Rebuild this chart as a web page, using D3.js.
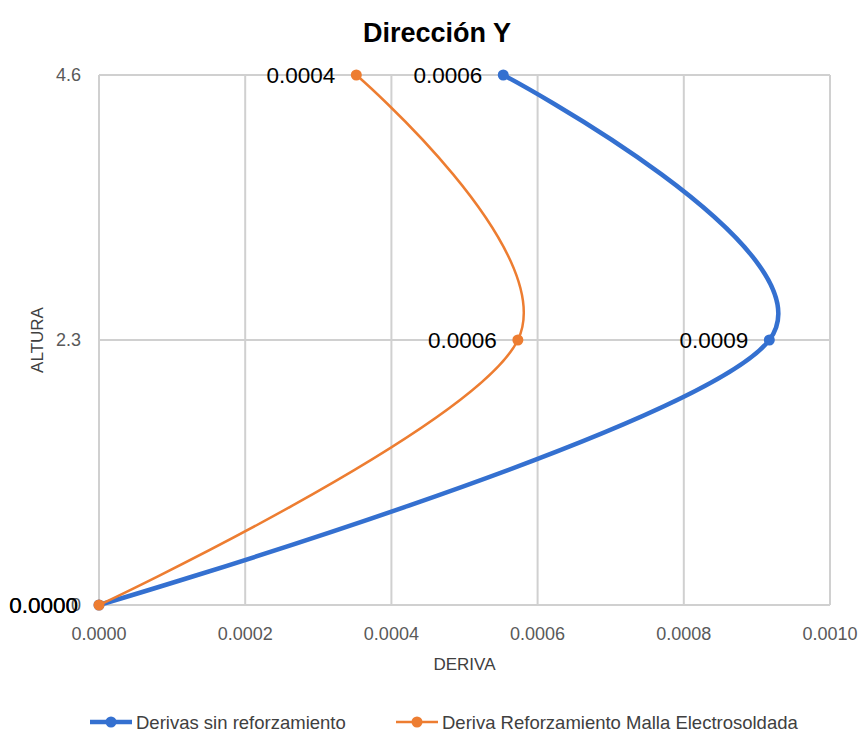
<!DOCTYPE html>
<html><head><meta charset="utf-8">
<script src="https://cdn.jsdelivr.net/npm/d3@7"></script>
<style>body{margin:0;background:#fff}svg{display:block}text{font-family:"Liberation Sans",Arial,sans-serif}</style>
</head><body>
<script>
const alturas = [0, 2.3, 4.6];
const derivasSinRef = [0, 0.000917, 0.000553];
const derivasMalla = [0, 0.000573, 0.000352];
const seriesNames = ["Derivas sin reforzamiento", "Deriva Reforzamiento Malla Electrosoldada"];
const xTicks = [0, 0.0002, 0.0004, 0.0006, 0.0008, 0.0010];
const yTicks = [0, 2.3, 4.6];
const yTickLabels = ["0", "2.3", "4.6"];

const W = 860, H = 733;
const svg = d3.select("body").append("svg").attr("width", W).attr("height", H);
const x = d3.scaleLinear().domain([0, 0.001]).range([99, 830]);
const y = d3.scaleLinear().domain([0, 4.6]).range([605, 75]);
const grid = "#d0d0d0";

// gridlines
svg.append("g").selectAll("line").data(xTicks).join("line")
  .attr("x1", d => x(d)).attr("x2", d => x(d)).attr("y1", y(0)).attr("y2", y(4.6))
  .attr("stroke", grid).attr("stroke-width", 2);
svg.append("g").selectAll("line").data(yTicks).join("line")
  .attr("x1", x(0)).attr("x2", x(0.001)).attr("y1", d => y(d)).attr("y2", d => y(d))
  .attr("stroke", grid).attr("stroke-width", 2);

// axes labels
svg.append("g").selectAll("text").data(xTicks).join("text")
  .attr("x", d => x(d)).attr("y", 640).attr("text-anchor", "middle")
  .attr("font-size", 18).attr("fill", "#595959").text(d => d3.format(".4f")(d));
svg.append("g").selectAll("text").data(yTicks).join("text")
  .attr("x", 81).attr("y", d => y(d) + 6).attr("text-anchor", "end")
  .attr("font-size", 18).attr("fill", "#595959").text((d, i) => yTickLabels[i]);

svg.append("text").attr("x", 437).attr("y", 42).attr("text-anchor", "middle")
  .attr("font-size", 27).attr("font-weight", "bold").attr("fill", "#000").text("Dirección Y");
svg.append("text").attr("x", x(0.0005)).attr("y", 670).attr("text-anchor", "middle")
  .attr("font-size", 17).attr("fill", "#404040").text("DERIVA");
svg.append("text").attr("transform", `translate(43,${y(2.3)}) rotate(-90)`).attr("text-anchor", "middle")
  .attr("font-size", 17).attr("fill", "#404040").text("ALTURA");

const series = [
  {vals: derivasSinRef, color: "#3470D0", w: 4.5},
  {vals: derivasMalla, color: "#ED7D31", w: 2.5}
];
const line = d3.line().x(d => x(d[0])).y(d => y(d[1])).curve(d3.curveCardinal.tension(0));
series.forEach(s => {
  const pts = s.vals.map((v, i) => [v, alturas[i]]);
  svg.append("path").attr("d", line(pts)).attr("fill", "none")
    .attr("stroke", s.color).attr("stroke-width", s.w).attr("stroke-linecap", "round");
  svg.append("g").selectAll("circle").data(pts).join("circle")
    .attr("cx", d => x(d[0])).attr("cy", d => y(d[1])).attr("r", 5.5).attr("fill", s.color);
  svg.append("g").selectAll("text").data(pts).join("text")
    .attr("x", d => x(d[0]) - 21).attr("y", d => y(d[1]) + 8).attr("text-anchor", "end")
    .attr("font-size", 22.5).attr("fill", "#000").text(d => d3.format(".4f")(d[0]));
});

// legend
const leg = [{x: 90, c: "#3470D0", w: 4.5}, {x: 396, c: "#ED7D31", w: 2.5}];
leg.forEach((l, i) => {
  svg.append("line").attr("x1", l.x).attr("x2", l.x + 42).attr("y1", 722).attr("y2", 722)
    .attr("stroke", l.c).attr("stroke-width", l.w);
  svg.append("circle").attr("cx", l.x + 21).attr("cy", 722).attr("r", 5.5).attr("fill", l.c);
  svg.append("text").attr("x", l.x + 46).attr("y", 728.5).attr("font-size", 18.5).attr("fill", "#404040").text(seriesNames[i]);
});
</script>
</body></html>
